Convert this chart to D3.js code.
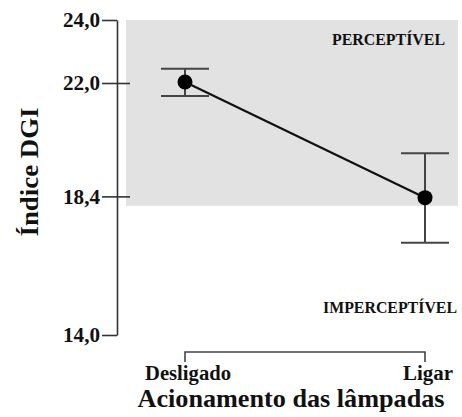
<!DOCTYPE html>
<html>
<head>
<meta charset="utf-8">
<script src="https://cdn.jsdelivr.net/npm/d3@7"></script>
<style>
  html, body { margin: 0; padding: 0; background: #fff; }
  svg { display: block; }
  text { font-family: "Liberation Serif", "Times New Roman", serif; font-weight: bold; fill: #111; }
</style>
</head>
<body>
<svg id="chart" width="462" height="417"></svg>
<script>
// Índice DGI por acionamento das lâmpadas (média ± erro)
const categories = ["Desligado", "Ligar"];
const means = [22.03, 18.36];
const upper = [22.45, 19.77];
const lower = [21.59, 16.93];
const yTicks = [14.0, 18.4, 22.0, 24.0];
const perceptibleFrom = 18.1;   // limite inferior da faixa perceptível
const yDomain = [14, 24];

const svg = d3.select("#chart");

const y = d3.scaleLinear().domain(yDomain).range([335, 20]);
const x = d3.scalePoint().domain(categories).range([185, 425]);
const axisX = 117;

// Faixa perceptível
svg.append("rect")
  .attr("x", 126).attr("width", 332)
  .attr("y", y(yDomain[1]))
  .attr("height", y(perceptibleFrom) - y(yDomain[1]))
  .attr("fill", "#e2e2e2");

// Eixo Y
const fmt = v => d3.format(".1f")(v).replace(".", ",");
const yAxis = svg.append("g")
  .attr("transform", `translate(${axisX},0)`)
  .call(d3.axisLeft(y).tickValues(yTicks).tickFormat(fmt).tickSize(15).tickSizeOuter(0).tickPadding(2));
yAxis.select(".domain").attr("stroke", "#333").attr("stroke-width", 1.6);
yAxis.selectAll(".tick line").attr("stroke", "#333").attr("stroke-width", 1.6);
yAxis.selectAll(".tick text")
  .attr("font-size", 20)
  .attr("dy", "0.34em")
  .attr("textLength", 37)
  .attr("lengthAdjust", "spacingAndGlyphs");
// Marcas internas cruzam o eixo
yAxis.selectAll(".tick")
  .filter(d => d !== yDomain[0] && d !== yDomain[1])
  .append("line")
  .attr("x1", 0).attr("x2", 13)
  .attr("stroke", "#333").attr("stroke-width", 1.6);

// Título do eixo Y
svg.append("text")
  .attr("transform", "translate(38,172) rotate(-90)")
  .attr("text-anchor", "middle")
  .attr("font-size", 25)
  .attr("textLength", 129)
  .attr("lengthAdjust", "spacingAndGlyphs")
  .text("Índice DGI");

// Colchete do eixo X
svg.append("path")
  .attr("d", `M${x(categories[0])},362 V352 H${x(categories[1])} V362`)
  .attr("fill", "none").attr("stroke", "#444").attr("stroke-width", 1.6);

const labelW = { "Desligado": 86, "Ligar": 50 };
const labelDx = { "Desligado": 3, "Ligar": 3 };
svg.selectAll(".xlab").data(categories).join("text")
  .attr("class", "xlab")
  .attr("x", d => x(d) + labelDx[d])
  .attr("y", 380)
  .attr("text-anchor", "middle")
  .attr("font-size", 20)
  .attr("textLength", d => labelW[d])
  .attr("lengthAdjust", "spacingAndGlyphs")
  .text(d => d);

svg.append("text")
  .attr("x", 291).attr("y", 407)
  .attr("text-anchor", "middle")
  .attr("font-size", 25)
  .attr("textLength", 307)
  .attr("lengthAdjust", "spacingAndGlyphs")
  .text("Acionamento das lâmpadas");

// Rótulos das faixas
svg.append("text")
  .attr("x", 332).attr("y", 45)
  .attr("font-size", 16)
  .attr("textLength", 113)
  .attr("lengthAdjust", "spacingAndGlyphs")
  .text("PERCEPTÍVEL");
svg.append("text")
  .attr("x", 323).attr("y", 313)
  .attr("font-size", 16)
  .attr("textLength", 134)
  .attr("lengthAdjust", "spacingAndGlyphs")
  .text("IMPERCEPTÍVEL");

// Barras de erro
const data = categories.map((c, i) => ({ c, m: means[i], hi: upper[i], lo: lower[i] }));
const capW = 24;
const eb = svg.append("g").attr("stroke", "#444").attr("stroke-width", 2);
data.forEach(d => {
  eb.append("line").attr("x1", x(d.c)).attr("x2", x(d.c)).attr("y1", y(d.hi)).attr("y2", y(d.lo));
  eb.append("line").attr("x1", x(d.c) - capW).attr("x2", x(d.c) + capW).attr("y1", y(d.hi)).attr("y2", y(d.hi));
  eb.append("line").attr("x1", x(d.c) - capW).attr("x2", x(d.c) + capW).attr("y1", y(d.lo)).attr("y2", y(d.lo));
});

// Linha de médias
svg.append("path")
  .datum(data)
  .attr("d", d3.line().x(d => x(d.c)).y(d => y(d.m)))
  .attr("fill", "none").attr("stroke", "#111").attr("stroke-width", 2.2);

svg.selectAll(".pt").data(data).join("circle")
  .attr("class", "pt")
  .attr("cx", d => x(d.c)).attr("cy", d => y(d.m))
  .attr("r", 7.5).attr("fill", "#000");
</script>
</body>
</html>
